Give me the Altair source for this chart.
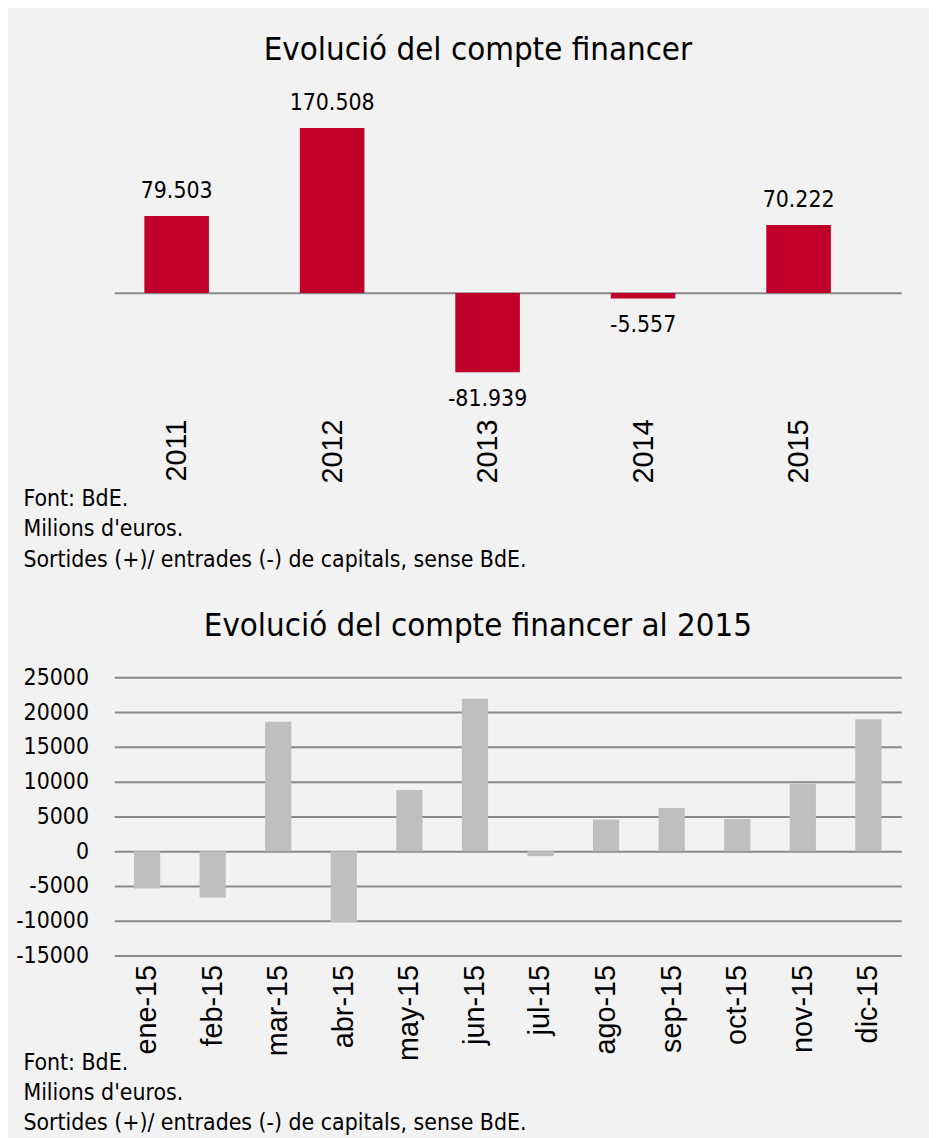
import altair as alt
import pandas as pd

# ---- data ----
years = [2011, 2012, 2013, 2014, 2015]
annual = [79503, 170508, -81939, -5557, 70222]
annual_labels = ["79.503", "170.508", "-81.939", "-5.557", "70.222"]

months = ["ene-15", "feb-15", "mar-15", "abr-15", "may-15", "jun-15",
          "jul-15", "ago-15", "sep-15", "oct-15", "nov-15", "dic-15"]
monthly = [-5370, -6660, 18630, -10230, 8810, 21910, -710, 4530, 6200, 4630, 9710, 18960]
y_ticks = [-15000, -10000, -5000, 0, 5000, 10000, 15000, 20000, 25000]

notes = ["Font: BdE.", "Milions d'euros.", "Sortides (+)/ entrades (-) de capitals, sense BdE."]
title_top = "Evolució del compte financer"
title_bottom = "Evolució del compte financer al 2015"

FONT_N = "Liberation Sans Narrow, DejaVu Sans Condensed, Liberation Sans, sans-serif"
FONT_A = "Liberation Sans, Arial, sans-serif"
RED = "#c0002b"
GREY_BAR = "#bfbfbf"
LINE = "#898989"

W = 792
H1 = 331
H2 = 280


def title_layer(text, y):
    return alt.Chart(pd.DataFrame({"t": [text]})).mark_text(
        align="center", baseline="alphabetic", font=FONT_N, fontSize=33, color="#000"
    ).encode(x=alt.value(366), y=alt.value(y), text="t:N")


# ---- top chart ----
top_df = pd.DataFrame({"year": years, "value": annual, "label": annual_labels})
pos_df = top_df[top_df["value"] >= 0]
neg_df = top_df[top_df["value"] < 0]

x1 = alt.X("year:Q", title=notes,
           scale=alt.Scale(domain=[2010.631, 2015.628], nice=False, zero=False),
           axis=alt.Axis(values=years, format="d", labelAngle=-90, labelFont=FONT_A, labelFontSize=29,
                         labelColor="#000", labelPadding=10, labelFlush=False, ticks=False,
                         domain=False, grid=False,
                         titleFont=FONT_N, titleFontSize=23, titleFontWeight="normal", titleColor="#000",
                         titleAlign="left", titleBaseline="alphabetic", titleLineHeight=30.5,
                         titleX=-92, titleY=97))
y1 = alt.Y("value:Q", title=None, scale=alt.Scale(domain=[-120000, 220000], nice=False),
           axis=alt.Axis(values=[0], labels=False, ticks=False, domain=False, grid=True,
                         gridColor=LINE, gridWidth=2))

bars1 = alt.Chart(top_df).mark_bar(color=RED, size=65).encode(x=x1, y=y1)
pos = alt.Chart(pos_df).mark_text(
    dy=-25, font=FONT_N, fontSize=23, baseline="middle", color="#000").encode(x=x1, y=y1, text="label:N")
neg = alt.Chart(neg_df).mark_text(
    dy=27, font=FONT_N, fontSize=23, baseline="middle", color="#000").encode(x=x1, y=y1, text="label:N")

top = alt.layer(bars1, pos, neg, title_layer(title_top, -20)).properties(width=W, height=H1)

# ---- bottom chart ----
bot_df = pd.DataFrame({"month": months, "value": monthly})
x2 = alt.X("month:N", sort=months, title=notes,
           scale=alt.Scale(paddingInner=0.6, paddingOuter=0.3),
           axis=alt.Axis(labelAngle=-90, labelFont=FONT_A, labelFontSize=29, labelColor="#000",
                         labelPadding=9, ticks=False, domain=False,
                         titleFont=FONT_N, titleFontSize=23, titleFontWeight="normal", titleColor="#000",
                         titleAlign="left", titleBaseline="alphabetic", titleLineHeight=30.5,
                         titleX=-92, titleY=114.5))
y2 = alt.Y("value:Q", title=None, scale=alt.Scale(domain=[-15000, 25000], nice=False),
           axis=alt.Axis(values=y_ticks, labelExpr="'' + datum.value", labelFont=FONT_N,
                         labelFontSize=23, labelColor="#000",
                         labelPadding=26, ticks=False, domain=False, grid=True,
                         gridColor=LINE, gridWidth=2))
bars2 = alt.Chart(bot_df).mark_bar(color=GREY_BAR).encode(x=x2, y=y2)

bottom = alt.layer(bars2, title_layer(title_bottom, -41.5)).properties(width=W, height=H2)

chart = alt.vconcat(top, bottom, spacing=39, background="#f2f2f2",
                    padding={"left": 7, "top": 23, "right": 28, "bottom": 0}
                    ).configure_view(strokeWidth=0)

chart.save("out.html", embed_options={"renderer": "svg", "actions": False})
